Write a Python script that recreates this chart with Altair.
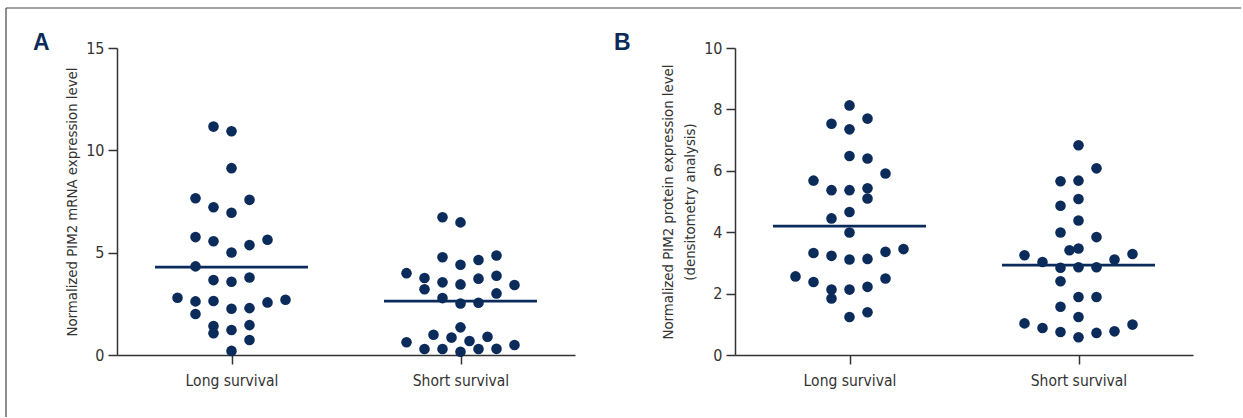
import altair as alt
import pandas as pd

groups = ["Long survival", "Short survival"]

# Panel A: PIM2 mRNA
a_long_vals = [11.16, 10.93, 9.13, 7.66, 7.22, 7.58, 6.95, 5.76, 5.56, 5.37, 5.63, 5.01,
               4.33, 3.66, 3.58, 3.79, 2.80, 2.62, 2.64, 2.26, 2.29, 2.57, 2.70, 2.00,
               1.42, 1.06, 1.22, 1.46, 0.73, 0.20]
a_long_cols = [-1, 0, 0, -2, -1, 1, 0, -2, -1, 1, 2, 0, -2, -1, 0, 1, -3, -2, -1, 0, 1, 2, 3,
               -2, -1, -1, 0, 1, 1, 0]
a_short_vals = [6.73, 6.48, 4.78, 4.41, 4.64, 4.86, 4.00, 3.76, 3.21, 3.55, 3.45, 3.73, 3.87,
                3.42, 2.78, 2.52, 2.55, 3.01, 1.35, 0.99, 0.85, 0.68, 0.89, 0.62, 0.29, 0.29,
                0.16, 0.29, 0.30, 0.49]
a_short_cols = [-1, 0, -1, 0, 1, 2, -3, -2, -2, -1, 0, 1, 2, 3, -1, 0, 1, 2, 0, -1.5, -0.5,
                0.5, 1.5, -3, -2, -1, 0, 1, 2, 3]
a_means = [4.29, 2.63]
a_ticks = [0, 5, 10, 15]

# Panel B: PIM2 protein
b_long_vals = [8.13, 7.53, 7.35, 7.70, 6.48, 6.40, 5.91, 5.68, 5.37, 5.37, 5.43, 5.10, 4.45,
               4.66, 3.99, 3.32, 3.23, 3.11, 3.13, 3.36, 3.45, 2.56, 2.38, 2.13, 1.84, 2.13,
               2.22, 2.49, 1.24, 1.39]
b_long_cols = [0, -1, 0, 1, 0, 1, 2, -2, -1, 0, 1, 1, -1, 0, 0, -2, -1, 0, 1, 2, 3, -3, -2,
               -1, -1, 0, 1, 2, 0, 1]
b_short_vals = [6.83, 6.08, 5.66, 5.68, 4.86, 5.08, 4.38, 3.99, 3.84, 3.41, 3.47, 3.25, 3.03,
                2.84, 2.86, 2.86, 3.11, 3.29, 2.40, 1.89, 1.89, 1.57, 1.24, 1.03, 0.88, 0.75,
                0.58, 0.72, 0.77, 0.99]
b_short_cols = [0, 1, -1, 0, -1, 0, 0, -1, 1, -0.5, 0, -3, -2, -1, 0, 1, 2, 3, -1, 0, 1, -1,
                0, -3, -2, -1, 0, 1, 2, 3]
b_means = [4.20, 2.93]
b_ticks = [0, 2, 4, 6, 8, 10]

NAVY = "#0b2b5b"
GREY = "#333333"
FONT = "Liberation Sans Narrow, DejaVu Sans Condensed, sans-serif"
W, H = 458, 307
STEP = 0.0786
HALF = 0.334


def panel(long_vals, long_cols, short_vals, short_cols, means, ticks, ytitle, letter,
          letter_x, border):
    df = pd.DataFrame({
        "grp": [0] * len(long_vals) + [1] * len(short_vals),
        "val": long_vals + short_vals,
        "col": long_cols + short_cols,
    })
    mdf = pd.DataFrame({"grp": [0, 1], "mean": means})
    xs = alt.Scale(domain=[-0.5, 1.5], nice=False, zero=False)
    ys = alt.Scale(domain=[0, ticks[-1]], nice=False)
    common = dict(grid=False, domainColor=GREY, domainWidth=1.5, tickColor=GREY,
                  tickWidth=1.5, labelFont=FONT, labelColor=GREY)
    xaxis = alt.Axis(values=[0, 1], labelExpr="['%s','%s'][datum.value]" % tuple(groups),
                     tickSize=9, labelPadding=9, labelFontSize=15.5, title=None,
                     labelFlush=False, **common)
    yaxis = alt.Axis(values=ticks, tickSize=9, labelPadding=4, labelFontSize=16,
                     titlePadding=6, titleFontSize=14.8, titleLineHeight=22.5,
                     titleFont=FONT, titleColor=GREY, titleFontWeight="normal", **common)
    pts = alt.Chart(df).transform_calculate(
        pos="datum.grp + datum.col * %f" % STEP
    ).mark_circle(size=112, opacity=1, color=NAVY).encode(
        x=alt.X("pos:Q", scale=xs, axis=xaxis),
        y=alt.Y("val:Q", scale=ys, axis=yaxis, title=ytitle),
    )
    mline = alt.Chart(mdf).transform_calculate(
        x1="datum.grp - %f" % HALF, x2="datum.grp + %f" % HALF
    ).mark_rule(color=NAVY, strokeWidth=2.8).encode(
        x="x1:Q", x2="x2:Q", y="mean:Q"
    )
    lab = alt.Chart(pd.DataFrame({"t": [letter]})).mark_text(
        align="left", baseline="alphabetic", fontSize=23, fontWeight="bold",
        font="Liberation Sans, Arial, sans-serif", color=NAVY
    ).encode(text="t:N", x=alt.value(letter_x), y=alt.value(1.5))
    layers = [pts, mline, lab]
    if border:
        bdf = pd.DataFrame({"k": [0]})
        layers.append(alt.Chart(bdf).mark_rule(color="#444444", strokeWidth=1.2).encode(
            x=alt.value(-111), y=alt.value(-40), y2=alt.value(369)))
        layers.append(alt.Chart(bdf).mark_rule(color="#444444", strokeWidth=1.2).encode(
            x=alt.value(-111), x2=alt.value(1124), y=alt.value(-40)))
    return alt.layer(*layers).properties(width=W, height=H)


pa = panel(a_long_vals, a_long_cols, a_short_vals, a_short_cols, a_means, a_ticks,
           "Normalized PIM2 mRNA expression level", "A", -84, True)
pb = panel(b_long_vals, b_long_cols, b_short_vals, b_short_cols, b_means, b_ticks,
           ["Normalized PIM2 protein expression level", "(densitometry analysis)"], "B",
           -121, False)

chart = alt.hconcat(pa, pb, spacing=160, bounds="flush").properties(
    padding={"left": 5, "top": 7, "right": 0, "bottom": 0},
    background="white",
).configure_view(strokeWidth=0)

chart.save("out.html", embed_options={"renderer": "svg", "actions": False})
